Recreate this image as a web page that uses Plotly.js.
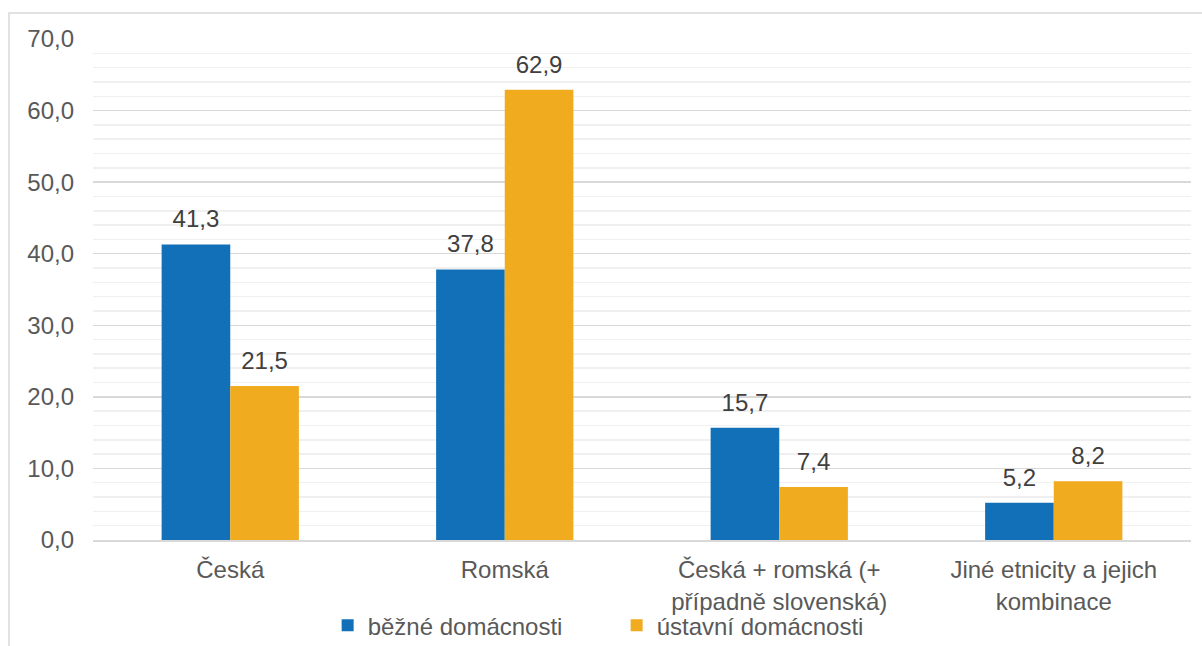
<!DOCTYPE html>
<html>
<head>
<meta charset="utf-8">
<script src="https://cdn.plot.ly/plotly-3.0.1.min.js"></script>
<style>
html,body{margin:0;padding:0;background:#fff;}
#chart{width:1202px;height:646px;}
</style>
</head>
<body>
<div id="chart"></div>
<script>
var categories = ["Česká", "Romská", "Česká + romská (+<br>případně slovenská)", "Jiné etnicity a jejich<br>kombinace"];
var seriesNames = ["běžné domácnosti", "ústavní domácnosti"];
var bezne = [41.3, 37.8, 15.7, 5.2];
var ustavni = [21.5, 62.9, 7.4, 8.2];
var colors = ["#1170b8", "#f0ab1e"];
var yTicks = [0, 10, 20, 30, 40, 50, 60, 70];

var FONT = "Liberation Sans, Arial, sans-serif";
var values = [bezne, ustavni];

var traces = [];
values.forEach(function (vals, i) {
  traces.push({
    type: "bar",
    name: seriesNames[i],
    x: categories,
    y: vals,
    offsetgroup: String(i),
    marker: {color: colors[i]},
    hoverinfo: "x+y"
  });
});
values.forEach(function (vals, i) {
  traces.push({
    type: "scatter",
    mode: "markers+text",
    x: categories,
    y: vals,
    offsetgroup: String(i),
    text: vals.map(function (v) { return v.toFixed(1).replace(".", ","); }),
    textposition: "top center",
    textfont: {family: FONT, size: 24, color: "#404040"},
    marker: {size: 16, color: "rgba(0,0,0,0)"},
    showlegend: false,
    hoverinfo: "skip",
    cliponaxis: false
  });
});

var layout = {
  width: 1202,
  height: 646,
  margin: {l: 93, r: 11, t: 39, b: 106, autoexpand: false},
  paper_bgcolor: "#ffffff",
  plot_bgcolor: "#ffffff",
  separators: ", ",
  barmode: "group",
  bargap: 0.5,
  bargroupgap: 0,
  scattermode: "group",
  scattergap: 0.5,
  font: {family: FONT, size: 24, color: "#595959"},
  showlegend: true,
  legend: {
    orientation: "h",
    x: 0.2137,
    xanchor: "left",
    y: -0.171,
    yanchor: "middle",
    font: {family: FONT, size: 24, color: "#595959"},
    traceorder: "normal",
    entrywidth: 244,
    entrywidthmode: "pixels",
    bgcolor: "rgba(0,0,0,0)"
  },
  xaxis: {
    type: "category",
    showgrid: false,
    showline: true,
    linecolor: "#d9d9d9",
    linewidth: 1.5,
    ticks: "",
    tickfont: {family: FONT, size: 24, color: "#595959"},
    ticklabelstandoff: 8,
    automargin: false,
    fixedrange: true
  },
  yaxis: {
    range: [0, 70],
    tickvals: yTicks,
    tickformat: ".1f",
    showgrid: true,
    gridcolor: "#d9d9d9",
    gridwidth: 1.5,
    zeroline: false,
    showline: false,
    ticks: "",
    ticklabelstandoff: 18,
    tickfont: {family: FONT, size: 24, color: "#595959"},
    minor: {dtick: 2, showgrid: true, gridcolor: "#f0f0f0", gridwidth: 1.5},
    automargin: false,
    fixedrange: true
  },
  shapes: [{
    type: "rect",
    xref: "paper", yref: "paper",
    x0: (9 - 93) / 1098, x1: (1210 - 93) / 1098,
    y0: (540 - 660) / 501, y1: 1 + (39 - 13) / 501,
    line: {color: "#d9d9d9", width: 1.5},
    fillcolor: "rgba(0,0,0,0)",
    layer: "below"
  }]
};

Plotly.newPlot("chart", traces, layout, {displayModeBar: false, staticPlot: true});
</script>
</body>
</html>
